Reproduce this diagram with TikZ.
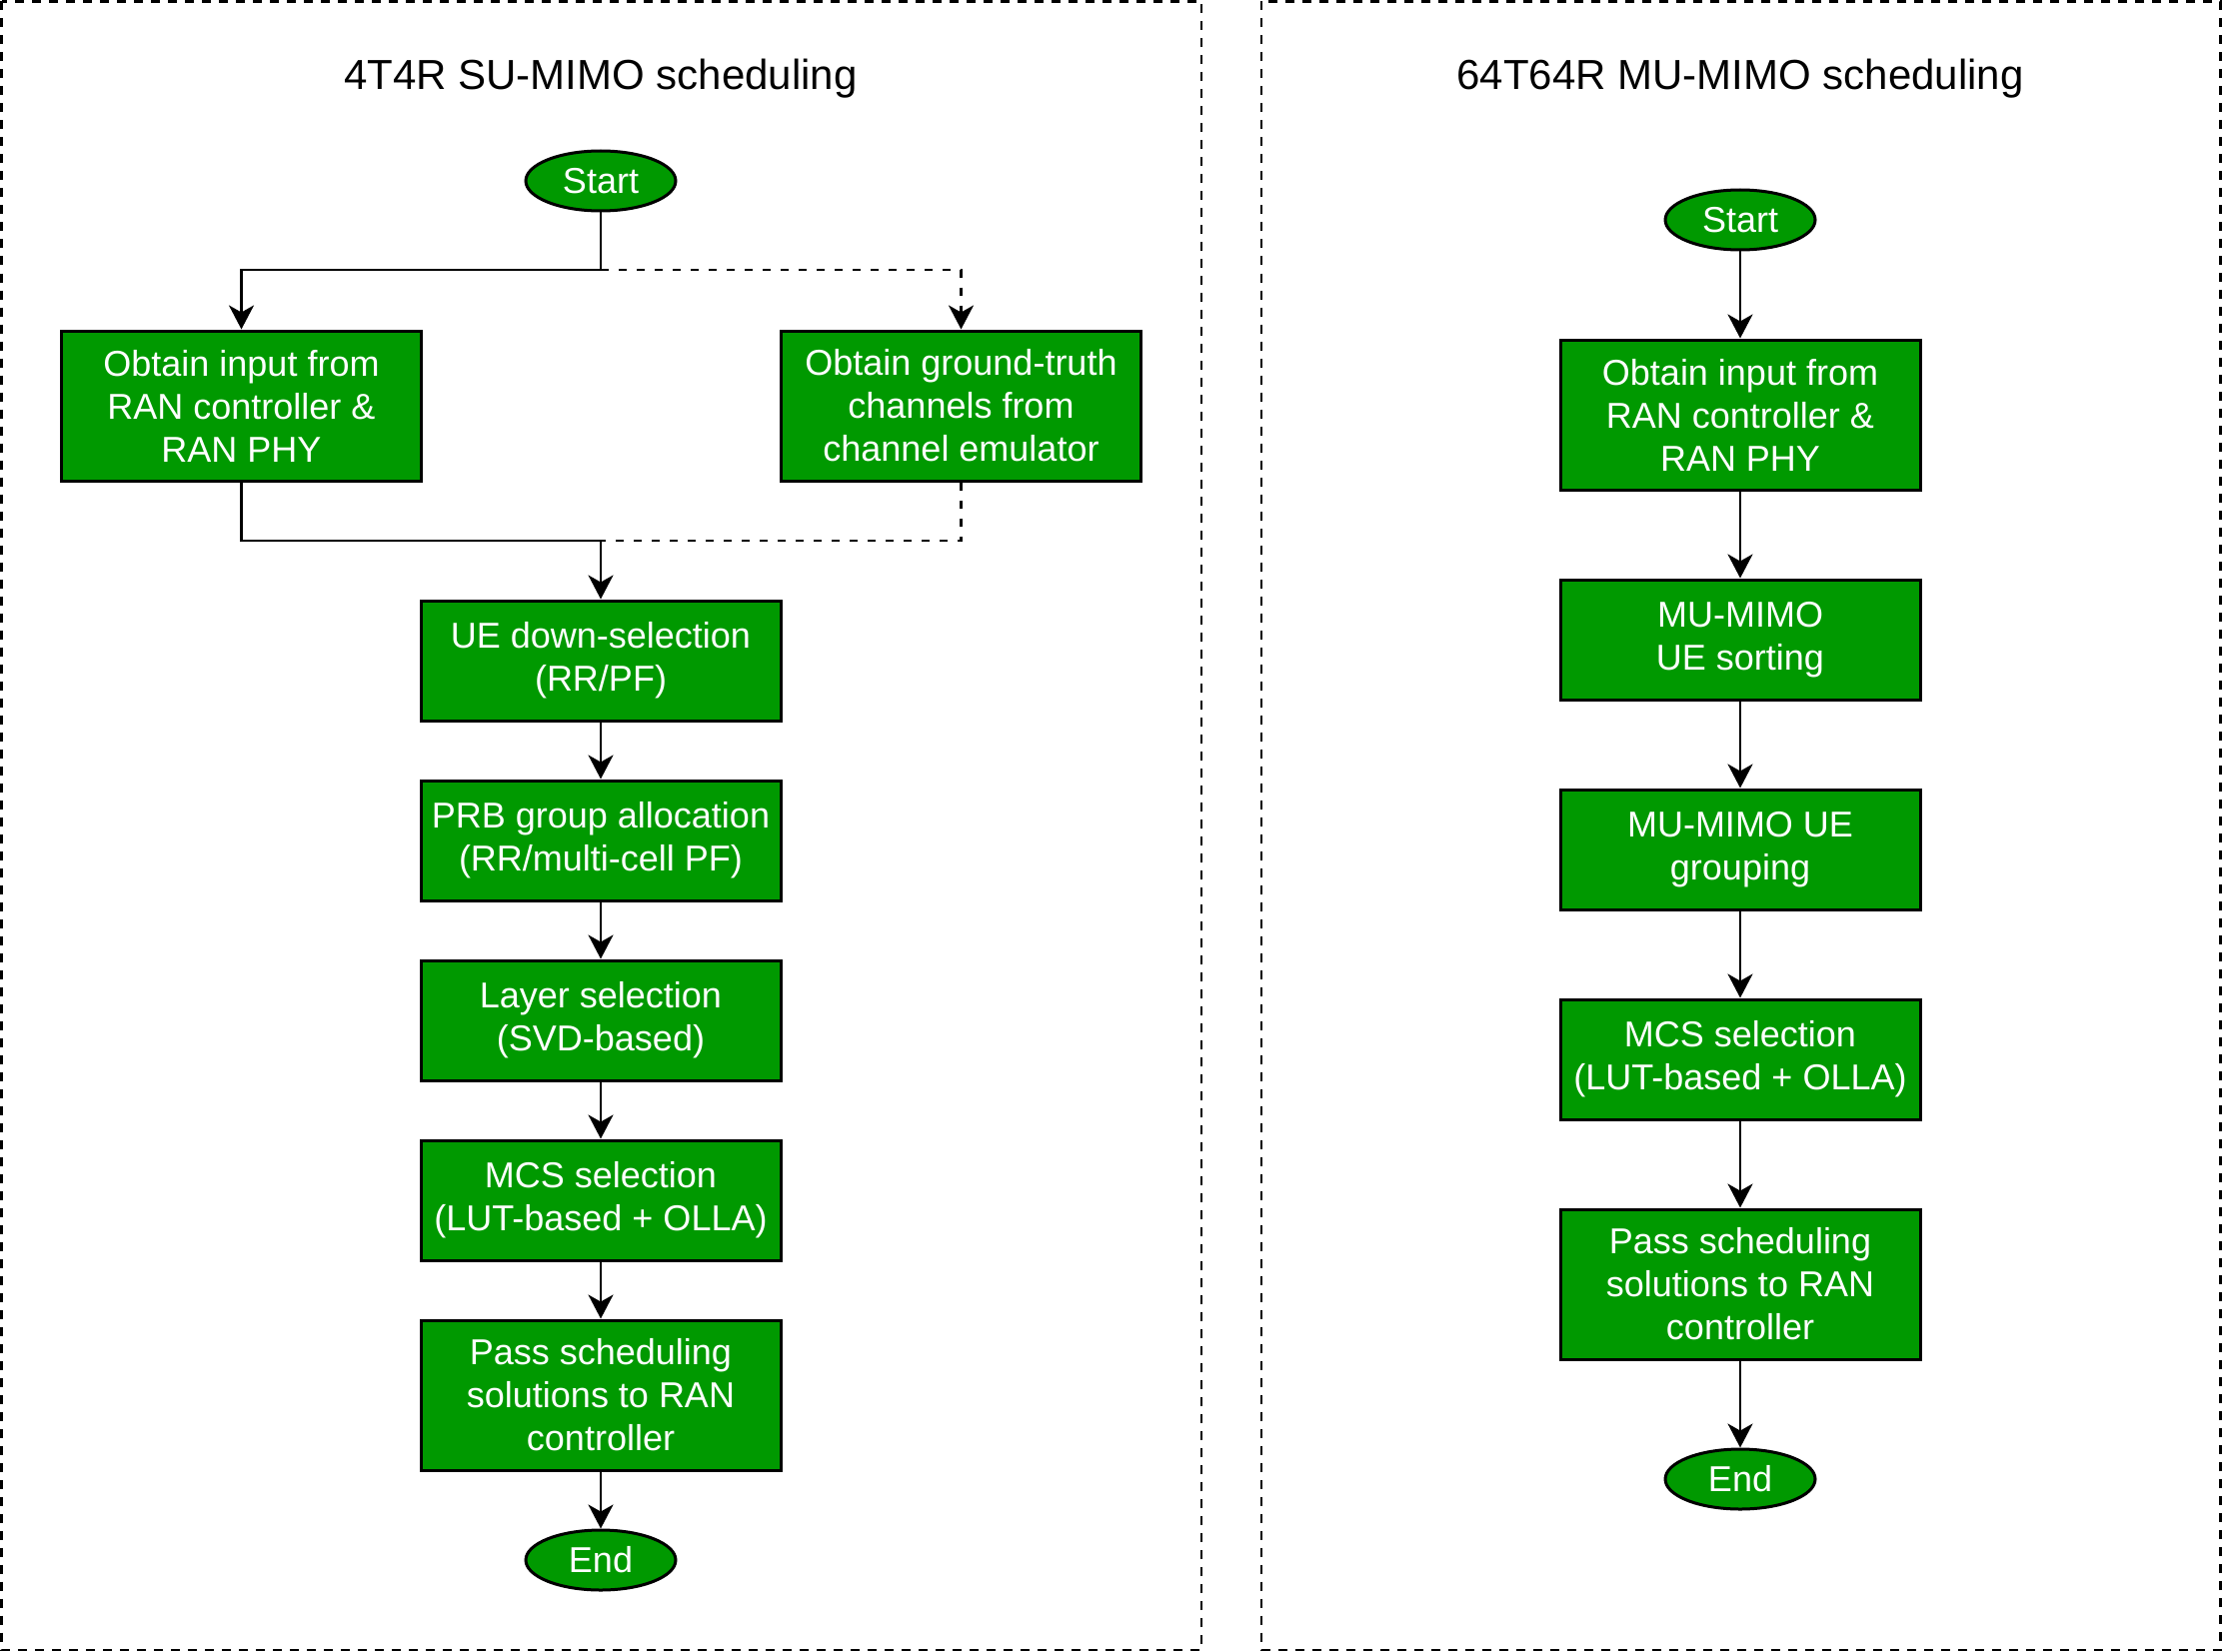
\documentclass[tikz,border=0pt]{standalone}
\usepackage{fontspec}
\setmainfont{Liberation Sans}
\usetikzlibrary{shapes.geometric,arrows.meta}
\definecolor{boxgreen}{HTML}{009900}
\begin{document}
\begin{tikzpicture}[x=1pt,y=-1pt,
		panel/.style={draw,line width=2.8pt,dash pattern=on 9pt off 8pt},
		title/.style={font=\fontsize{42}{50}\selectfont,anchor=base},
		stepbox/.style={draw,line width=3pt,fill=boxgreen,text=white,align=center,minimum width=360pt,minimum height=120pt,inner sep=0pt,font=\fontsize{36}{43}\selectfont},
		tallbox/.style={stepbox,minimum height=150pt},
		terminal/.style={ellipse,draw,line width=3pt,fill=boxgreen,text=white,minimum width=150pt,minimum height=60pt,inner sep=0pt,font=\fontsize{36}{43}\selectfont},
		link/.style={line width=2.7pt},
		dashlink/.style={link,dash pattern=on 8pt off 10pt},
		flow/.style={-{Stealth[length=24pt,width=25pt,inset=7pt]}}]
			\useasboundingbox (0,0) rectangle (2223,1653);
			\draw[panel] (1.5,1.5) rectangle (1202,1651);
			\draw[panel] (1262,1.5) rectangle (2221.5,1651);
			\node[title] (title1) at (601,90) {4T4R SU-MIMO scheduling};
			\node[title] (title2) at (1741,90) {64T64R MU-MIMO scheduling};
			\node[terminal] (start1) at (601,181) {Start};
			\node[tallbox] (input1) at (241.5,406) {Obtain input from\\RAN controller \&\\RAN PHY};
			\node[tallbox] (truth) at (961.5,406) {Obtain ground-truth\\channels from\\channel emulator};
			\node[stepbox] (downsel) at (601,661) {UE down-selection\\(RR/PF)};
			\node[stepbox] (prb) at (601,841) {PRB group allocation\\(RR/multi-cell PF)};
			\node[stepbox] (layer) at (601,1021) {Layer selection\\(SVD-based)};
			\node[stepbox] (mcs1) at (601,1201) {MCS selection\\(LUT-based + OLLA)};
			\node[tallbox] (pass1) at (601,1396) {Pass scheduling\\solutions to RAN\\controller};
			\node[terminal] (end1) at (601,1561) {End};
			\coordinate (split) at (601,270);
			\coordinate (join) at (601,541);
			\draw[link] (start1) -- (split);
			\draw[link,flow] (split) -| (input1);
			\draw[dashlink,flow] (split) -| (truth);
			\draw[link] (input1) |- (join);
			\draw[dashlink] (truth) |- (join);
			\draw[link,flow] (join) -- (downsel);
			\draw[link,flow] (downsel) -- (prb);
			\draw[link,flow] (prb) -- (layer);
			\draw[link,flow] (layer) -- (mcs1);
			\draw[link,flow] (mcs1) -- (pass1);
			\draw[link,flow] (pass1) -- (end1);
			\node[terminal] (start2) at (1741,220) {Start};
			\node[tallbox] (input2) at (1741,415) {Obtain input from\\RAN controller \&\\RAN PHY};
			\node[stepbox] (sorting) at (1741,640) {MU-MIMO\\UE sorting};
			\node[stepbox] (grouping) at (1741,850) {MU-MIMO UE\\grouping};
			\node[stepbox] (mcs2) at (1741,1060) {MCS selection\\(LUT-based + OLLA)};
			\node[tallbox] (pass2) at (1741,1285) {Pass scheduling\\solutions to RAN\\controller};
			\node[terminal] (end2) at (1741,1480) {End};
			\draw[link,flow] (start2) -- (input2);
			\draw[link,flow] (input2) -- (sorting);
			\draw[link,flow] (sorting) -- (grouping);
			\draw[link,flow] (grouping) -- (mcs2);
			\draw[link,flow] (mcs2) -- (pass2);
			\draw[link,flow] (pass2) -- (end2);
		\end{tikzpicture}
\end{document}
